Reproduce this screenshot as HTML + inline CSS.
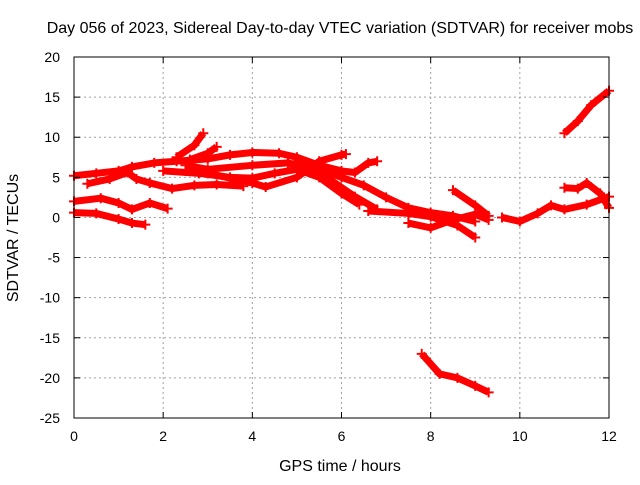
<!DOCTYPE html>
<html><head><meta charset="utf-8"><style>
body{margin:0;background:#fff}
svg text{font-family:"Liberation Sans",sans-serif;font-size:14px;fill:#000}
svg text.big{font-size:16px}
</style></head><body>
<svg id="c" width="640" height="480">
<rect width="640" height="480" fill="#fff"/>
<g id="grid"></g><g id="data"></g><g id="axes"></g>
<text class="big" x="340" y="33" text-anchor="middle">Day 056 of 2023, Sidereal Day-to-day VTEC variation (SDTVAR) for receiver mobs</text>
<text class="big" x="340" y="471" text-anchor="middle">GPS time / hours</text>
<text class="big" x="18" y="238" text-anchor="middle" transform="rotate(-90 18 238)">SDTVAR / TECUs</text>
</svg>
<script>
const xTicks=[0,2,4,6,8,10,12];
const yTicks=[20,15,10,5,0,-5,-10,-15,-20,-25];
const track1=[[0,5.2],[0.5,5.5],[1,5.8],[1.3,6.3],[1.8,6.8],[2.3,7],[3,7.3],[3.5,7.8],[4,8.1],[4.6,8],[5,7.5],[5.5,6.5],[6,5.8],[6.3,5.6],[6.6,6.8],[6.8,7]];
const track2=[[0.3,4.2],[0.8,4.8],[1.2,5.6],[1.4,4.8],[1.7,4.3],[2.2,3.6],[2.7,4],[3.2,4.1],[3.8,3.9]];
const track3=[[2,5.8],[2.8,5.5],[3.5,5],[4,4.9],[4.5,5.5],[5,6],[5.5,5],[6,3],[6.4,1.6]];
const track4=[[2.5,6.5],[3,6],[4,6.5],[4.8,6.8],[5.3,6],[5.8,4.5],[6.3,2.6],[6.8,1]];
const track5=[[2.3,7.5],[2.7,9],[2.9,10.5]];
const track6=[[2.6,7.2],[3,8],[3.2,8.8]];
const track7=[[3,5.5],[4,4.3],[4.3,3.8],[5,5],[5.5,7],[6,7.8],[6.1,7.9]];
const track8=[[5,7],[5.5,6],[6,5],[6.5,4],[7,2.5],[7.5,1.2],[8,0.6],[8.5,0.2],[9,-0.5]];
const track9=[[6.6,0.8],[7.5,0.5],[8,0.1],[8.6,-1],[9,-2.5]];
const track10=[[7.5,-0.7],[8,-1.3],[8.5,-0.3],[9,0.4],[9.3,-0.3]];
const track11=[[7.8,-17],[8.2,-19.5],[8.6,-20],[9,-21],[9.3,-21.8]];
const track12=[[8.5,3.4],[9,1.5],[9.3,0.2]];
const track13=[[9.6,0],[10,-0.5],[10.4,0.5],[10.7,1.5],[11,1],[11.5,1.6],[12,2.6]];
const track14=[[11,3.7],[11.3,3.6],[11.5,4.3],[11.8,3],[12,1.2]];
const track15=[[11,10.5],[11.3,12],[11.6,14],[12,15.8]];
const track16=[[0,2],[0.6,2.4],[1,1.8],[1.3,1],[1.7,1.8],[2.1,1.1]];
const track17=[[0,0.6],[0.5,0.5],[1,-0.2],[1.3,-0.7],[1.6,-0.9]];
const tracks=[track1,track2,track3,track4,track5,track6,track7,track8,track9,track10,track11,track12,track13,track14,track15,track16,track17];
const X0=74,X1=609,Y0=57,Y1=418;
const sx=h=>X0+(h-0)/(12-0)*(X1-X0);
const sy=v=>Y0+(20-v)/(20-(-25))*(Y1-Y0);
const NS='http://www.w3.org/2000/svg';
function mk(t,a,p){const e=document.createElementNS(NS,t);for(const k in a)e.setAttribute(k,a[k]);p.appendChild(e);return e;}
const grid=document.getElementById('grid'),axes=document.getElementById('axes'),data=document.getElementById('data');
xTicks.forEach(t=>{const x=sx(t);
 if(t>0&&t<12){const g=mk('line',{x1:x,x2:x,y1:Y0,y2:Y1,stroke:'#a0a0a0','stroke-dasharray':'2,3'},grid);
 }
 mk('line',{x1:x,x2:x,y1:Y1,y2:Y1-6,stroke:'#000'},axes);mk('line',{x1:x,x2:x,y1:Y0,y2:Y0+6,stroke:'#000'},axes);
 const l=mk('text',{x:x,y:Y1+23,'text-anchor':'middle'},axes);l.textContent=t;
 });
yTicks.forEach(t=>{const y=sy(t);
 if(t<20&&t>-25){const g=mk('line',{x1:X0,x2:X1,y1:y,y2:y,stroke:'#a0a0a0','stroke-dasharray':'2,3'},grid);
 }
 mk('line',{x1:X0,x2:X0+6,y1:y,y2:y,stroke:'#000'},axes);mk('line',{x1:X1,x2:X1-6,y1:y,y2:y,stroke:'#000'},axes);
 const l=mk('text',{x:X0-14,y:y+5,'text-anchor':'end'},axes);l.textContent=t;
 });
const fr=mk('rect',{x:X0,y:Y0,width:X1-X0,height:Y1-Y0,fill:'none',stroke:'#000'},axes);

tracks.forEach(tr=>{
 const g=mk('g',{},data);
 
 
 mk('polyline',{points:tr.map(p=>sx(p[0])+','+sy(p[1])).join(' '),fill:'none',stroke:'#f00','stroke-width':7,'stroke-linejoin':'round'},g);
 tr.forEach(p=>{const x=sx(p[0]),y=sy(p[1]);
  mk('path',{d:`M${x-5},${y}H${x+5}M${x},${y-5}V${y+5}`,stroke:'#f00','stroke-width':2},g);});
});
</script>
</body></html>
